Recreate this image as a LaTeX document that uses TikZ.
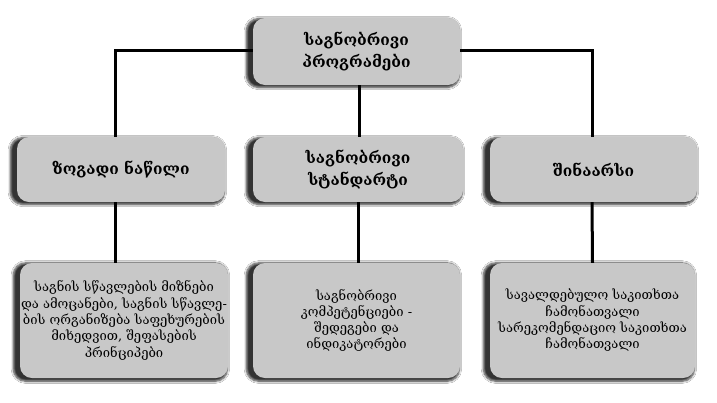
\documentclass[tikz,border=0pt]{standalone}
\usepackage{fontspec}
\setmainfont{DejaVu Serif}
\usetikzlibrary{shadows.blur}
\definecolor{boxgray}{HTML}{C8C8C8}
\tikzset{
  box/.style={rounded corners=12pt, fill=boxgray, align=center, inner sep=1pt,
    blur shadow={shadow xshift=-3.5pt, shadow yshift=-1.5pt, shadow scale=1.03, shadow blur steps=6, shadow opacity=80}},
  hbox/.style={box, font=\bfseries\fontsize{15.5}{21.5}\selectfont},
  tbox/.style={box, font=\fontsize{13}{16.3}\selectfont},
  conn/.style={line width=3pt, black}
}
\begin{document}
\begin{tikzpicture}[x=1pt,y=-1pt]
\path[use as bounding box, fill=white] (0,0) rectangle (717,402);
\node[hbox, minimum width=207pt, minimum height=67pt] (top) at (356.5,51.5) {საგნობრივი\\პროგრამები};
\node[hbox, minimum width=208pt, minimum height=65pt] (la) at (121,169.5) {ზოგადი ნაწილი};
\node[hbox, minimum width=210pt, minimum height=65pt] (lb) at (358,169.5) {საგნობრივი\\სტანდარტი};
\node[hbox, minimum width=207pt, minimum height=65pt] (lc) at (593.5,169.5) {შინაარსი};
\node[tbox, minimum width=208pt, minimum height=115pt] (ba) at (124,320.5) {საგნის სწავლების მიზნები\\და ამოცანები, საგნის სწავლე-\\ბის ორგანიზება საფეხურების\\მიხედვით, შეფასების\\პრინციპები};
\node[tbox, minimum width=207pt, minimum height=115pt] (bb) at (356.5,320.5) {საგნობრივი\\კომპეტენციები -\\შედეგები და\\ინდიკატორები};
\node[tbox, minimum width=205pt, minimum height=115pt] (bc) at (592.5,320.5) {სავალდებულო საკითხთა\\ჩამონათვალი\\სარეკომენდაციო საკითხთა\\ჩამონათვალი};
\draw[conn] ([yshift=1.5pt]top.west) -| ([xshift=-6pt]la.north);
\draw[conn] ([yshift=1.5pt]top.east) -| ([xshift=-1.5pt]lc.north);
\draw[conn] ([xshift=2.5pt]top.south) -- ([xshift=1pt]lb.north);
\draw[conn] ([xshift=-6pt]la.south) -- ([xshift=-9pt]ba.north);
\draw[conn] (lb.south) -- ([xshift=1.5pt]bb.north);
\draw[conn] ([xshift=-1.5pt]lc.south) -- (bc.north);
\end{tikzpicture}
\end{document}
